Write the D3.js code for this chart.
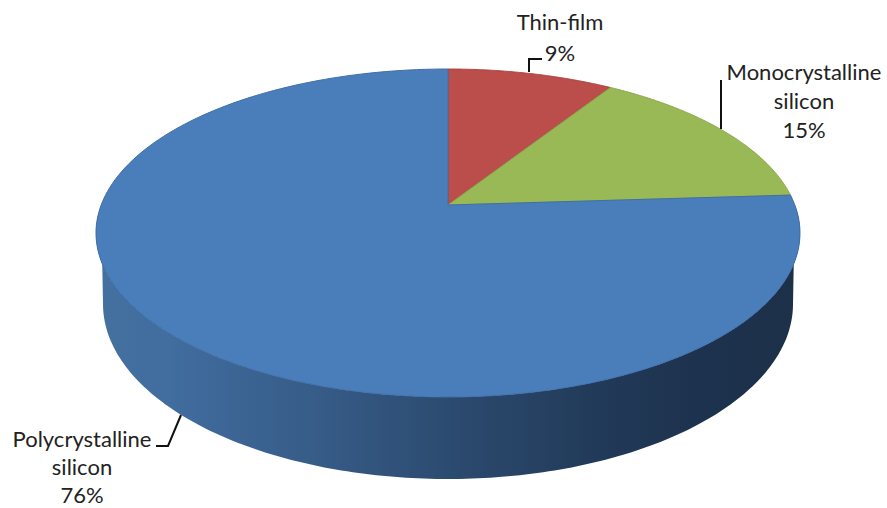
<!DOCTYPE html>
<html><head><meta charset="utf-8"><script src="https://cdn.jsdelivr.net/npm/d3@7"></script>
<style>html,body{margin:0;background:#fff}svg{display:block}text{font-family:Lato,"Open Sans",sans-serif;fill:#222;font-size:22px;text-anchor:middle}</style>
</head><body><svg id="c" width="887" height="508"></svg>
<script>
const categories=["Thin-film","Monocrystalline","Polycrystalline"];
const secondLines=[null,"silicon","silicon"];
const values=[9,15,76];
const colors=["#bb4d4a","#98b955","#4a7ebb"];
const strokes=["#a8403e","#88a74b","#3f6fa8"];
const svg=d3.select("#c");
const cx=448,cy=233,rx=352,ry=164,apexY=205;
const C=apexY-cy, kk=C/ry, A=rx*Math.sqrt(1-kk*kk);
function project(t){const u=Math.sin(t),v=-Math.cos(t),w=1+kk*v;
  return [cx+A*u/w,cy+(ry*v+C)/w];}
const arcs=d3.pie().sort(null).value(d=>d)(values);
const line=d3.line();
const sample=(a,b)=>d3.range(0,181).map(i=>project(a+(b-a)*i/180));
const defs=svg.append("defs");
const g=defs.append("linearGradient").attr("id","side").attr("gradientUnits","userSpaceOnUse").attr("x1",96).attr("x2",800).attr("y1",0).attr("y2",0);
[[0,"#44719f"],[0.1,"#416d9f"],[0.3,"#375d89"],[0.5,"#2c4b70"],[0.7,"#223b5a"],[0.85,"#1d324e"],[1,"#1c3049"]].forEach(s=>g.append("stop").attr("offset",s[0]).attr("stop-color",s[1]));
const bcy=304,brx=345,bry=175;
const angles=d3.range(0,181).map(i=>Math.PI/2+Math.PI*i/180);
const rimTop=angles.map(project);
const rimBot=angles.slice().reverse().map(a=>[cx+brx*Math.sin(a),bcy-bry*Math.cos(a)]);
svg.append("path").attr("d",line(rimTop.concat(rimBot))+"Z").attr("fill","url(#side)");
arcs.forEach((d,i)=>{
  const p=[[cx,apexY]].concat(sample(d.startAngle,d.endAngle));
  svg.append("path").attr("d",line(p)+"Z").attr("fill",colors[i]).attr("stroke",strokes[i]).attr("stroke-width",1);
});
const leaders=[[[529,72],[529,59],[542,59]],[[721,129],[721,80]],[[181,415],[168,446],[156,446]]];
leaders.forEach(l=>svg.append("path").attr("d",line(l)).attr("fill","none").attr("stroke","#111").attr("stroke-width",2));
const labels=[[560,[categories[0],values[0]+"%"],30,31],[804,[categories[1],secondLines[1],values[1]+"%"],80,29],[82,[categories[2],secondLines[2],values[2]+"%"],447,28]];
labels.forEach(l=>{const tx=svg.append("text");l[1].forEach((s,i)=>tx.append("tspan").attr("x",l[0]).attr("y",l[2]+i*l[3]).text(s));});
</script></body></html>
